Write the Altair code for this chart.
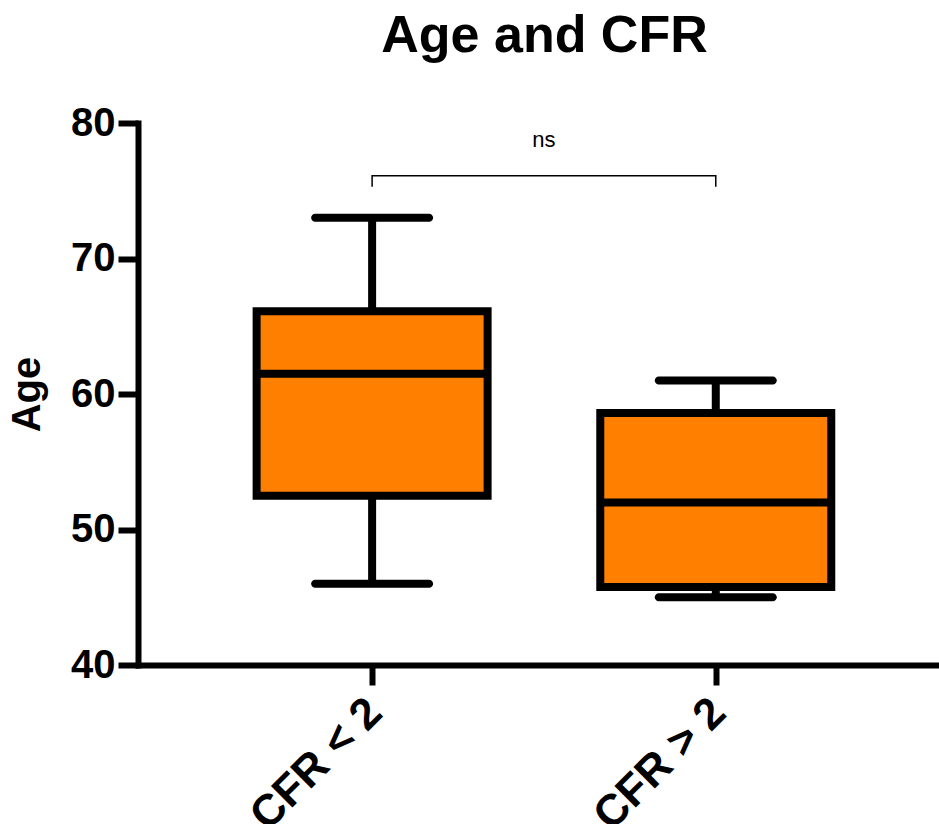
import altair as alt
import pandas as pd

# ---- data ----
groups = ["CFR < 2", "CFR > 2"]
whisker_low = [46.0, 45.0]
q1 = [52.5, 45.75]
median = [61.5, 52.0]
q3 = [66.1, 58.6]
whisker_high = [73.0, 61.0]
y_ticks = [40, 50, 60, 70, 80]

sig_label = "ns"
bracket_top = 76.1
bracket_foot = 75.3
sig_label_y = 78.75

idx = list(range(len(groups)))
df = pd.DataFrame({
    "idx": idx, "group": groups, "lo": whisker_low, "q1": q1,
    "med": median, "q3": q3, "hi": whisker_high,
})
df_br = pd.DataFrame({
    "idx": [idx[0], idx[0], idx[1], idx[1]],
    "y": [bracket_foot, bracket_top, bracket_top, bracket_foot],
    "ord": [0, 1, 2, 3],
})
df_ns = pd.DataFrame({"idx": [(idx[0] + idx[1]) / 2], "y": [sig_label_y], "t": [sig_label]})

FONT = "Liberation Sans"
label_expr = "[" + ",".join("'" + g + "'" for g in groups) + "][datum.value]"

xs = alt.Scale(domain=[-0.6667, 1.635], nice=False, zero=False)
ys = alt.Scale(domain=[40, 80], nice=False, zero=False)
xaxis = alt.Axis(values=idx, labelExpr=label_expr, labelAngle=-45, title=None,
                 labelFontSize=44, tickSize=20, labelPadding=5, labelOffset=-13)
yaxis = alt.Axis(values=y_ticks, title="Age", labelFontSize=40, tickSize=20,
                 labelPadding=3, titlePadding=23, titleFontSize=40)

X = alt.X("idx:Q", scale=xs, axis=xaxis)

whisk = alt.Chart(df).mark_rule(strokeWidth=8, color="black").encode(
    x=X, y=alt.Y("lo:Q", scale=ys, axis=yaxis), y2="hi:Q")
box = alt.Chart(df).mark_bar(size=231, fill="#FF8000", stroke="black",
                             strokeWidth=8, strokeJoin="miter").encode(
    x=X, y=alt.Y("q1:Q", scale=ys, axis=yaxis), y2="q3:Q")
med = alt.Chart(df).mark_tick(orient="horizontal", size=231, thickness=8,
                              color="black", opacity=1).encode(
    x=X, y=alt.Y("med:Q", scale=ys, axis=yaxis))
cap_lo = alt.Chart(df).mark_tick(orient="horizontal", size=122, thickness=8,
                                 cornerRadius=4, color="black", opacity=1).encode(
    x=X, y=alt.Y("lo:Q", scale=ys, axis=yaxis))
cap_hi = alt.Chart(df).mark_tick(orient="horizontal", size=122, thickness=8,
                                 cornerRadius=4, color="black", opacity=1).encode(
    x=X, y=alt.Y("hi:Q", scale=ys, axis=yaxis))
bracket = alt.Chart(df_br).mark_line(strokeWidth=1.5, color="black").encode(
    x=X, y=alt.Y("y:Q", scale=ys, axis=yaxis), order="ord:Q")
ns = alt.Chart(df_ns).mark_text(font=FONT, fontSize=22, color="black",
                                baseline="middle", align="center").encode(
    x=X, y=alt.Y("y:Q", scale=ys, axis=yaxis), text="t:N")

chart = alt.layer(whisk, box, med, cap_lo, cap_hi, bracket, ns).properties(
    width=801, height=542,
    background="white",
    title=alt.TitleParams("Age and CFR", font=FONT, fontSize=52, fontWeight="bold",
                          anchor="middle", offset=40, dx=6, color="black"),
    autosize=alt.AutoSizeParams(type="none"),
    padding={"left": 138, "top": 123, "right": 0, "bottom": 159},
).configure_view(stroke=None).configure_axis(
    grid=False, domainColor="black", domainWidth=6, domainCap="square",
    tickColor="black", tickWidth=6, labelFont=FONT, labelFontWeight="bold",
    labelColor="black", titleFont=FONT, titleFontWeight="bold", titleColor="black",
)

chart.save("out.html", embed_options={"renderer": "svg", "actions": False})
